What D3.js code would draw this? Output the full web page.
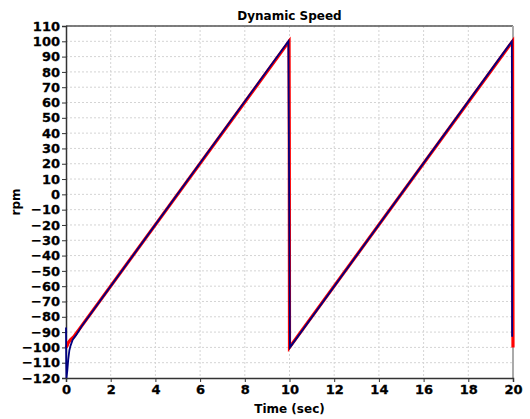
<!DOCTYPE html>
<html>
<head>
<meta charset="utf-8">
<script src="https://cdn.jsdelivr.net/npm/d3@7"></script>
<style>
  body { margin: 0; background: #fff; }
  text { font-family: "DejaVu Sans", Verdana, sans-serif; font-weight: bold; }
</style>
</head>
<body>
<script>
var refTime  = [0, 0.05, 0.1, 0.2, 0.35, 9.98, 9.99, 10.0, 19.98, 20.0];
var refSpeed = [-100, -99, -97, -95, -93, 100, 40, -100, 100, -100];

var measTime  = [0, 0.01, 0.02, 0.06, 0.1, 0.15, 0.2, 0.3, 0.45, 0.7, 9.95, 10.02, 19.95, 19.96];
var measSpeed = [-87, -110, -120, -115, -108, -102, -99, -95, -92, -86.2, 100, -100, 100, -93];

var xTicks = [0, 2, 4, 6, 8, 10, 12, 14, 16, 18, 20];
var yTicks = d3.range(-120, 111, 10);

var margin = {top: 26, right: 17, bottom: 41, left: 66},
    width = 530 - margin.left - margin.right,
    height = 419 - margin.top - margin.bottom;

var x = d3.scaleLinear().domain([0, 20]).range([0, width]);
var y = d3.scaleLinear().domain([-120, 110]).range([height, 0]);

var svg = d3.select('body').append('svg')
    .attr('width', 530)
    .attr('height', 419);

var main = svg.append('g')
    .attr('transform', 'translate(' + margin.left + ',' + margin.top + ')');

// grid
main.append('g').selectAll('line')
    .data(xTicks.slice(1))
    .enter().append('line')
    .attr('x1', function(d) { return x(d); })
    .attr('x2', function(d) { return x(d); })
    .attr('y1', 0).attr('y2', height)
    .attr('stroke', '#d4d4d4')
    .attr('stroke-dasharray', '2,2');

main.append('g').selectAll('line')
    .data(yTicks.slice(1))
    .enter().append('line')
    .attr('x1', 0).attr('x2', width)
    .attr('y1', function(d) { return y(d); })
    .attr('y2', function(d) { return y(d); })
    .attr('stroke', '#d4d4d4')
    .attr('stroke-dasharray', '2,2');

// frame: top and right
main.append('line').attr('x1', 0).attr('x2', width).attr('y1', 0).attr('y2', 0)
    .attr('stroke', '#555').attr('stroke-width', 1.5);
main.append('line').attr('x1', width).attr('x2', width).attr('y1', 0).attr('y2', height)
    .attr('stroke', '#aaa').attr('stroke-width', 2);

var x_axis = d3.axisBottom(x).tickValues(xTicks).tickSize(4).tickPadding(3);
var y_axis = d3.axisLeft(y).tickValues(yTicks).tickSize(4).tickPadding(2);

var gx = main.append('g')
    .attr('transform', 'translate(0,' + height + ')')
    .call(x_axis);
var gy = main.append('g').call(y_axis);

[gx, gy].forEach(function(g) {
    g.select('.domain').attr('stroke', '#333').attr('stroke-width', 1.5);
    g.selectAll('.tick line').attr('stroke', '#333');
    g.selectAll('.tick text')
        .attr('fill', '#000')
        .attr('stroke', '#000')
        .attr('stroke-width', 0.3)
        .style('font-size', '13px');
});

var line = d3.line()
    .x(function(d) { return x(d[0]); })
    .y(function(d) { return y(d[1]); });

var ref = d3.zip(refTime, refSpeed);
var meas = d3.zip(measTime, measSpeed);

main.append('path')
    .datum(ref)
    .attr('d', line)
    .attr('fill', 'none')
    .attr('stroke', '#ff0000')
    .attr('stroke-width', 3.2);

main.append('path')
    .datum(meas)
    .attr('d', line)
    .attr('fill', 'none')
    .attr('stroke', '#00007f')
    .attr('stroke-width', 1.8);

// titles
svg.append('text')
    .attr('x', margin.left + width / 2)
    .attr('y', 20)
    .style('text-anchor', 'middle')
    .style('font-size', '12px')
    .text('Dynamic Speed');

svg.append('text')
    .attr('x', margin.left + width / 2)
    .attr('y', 413)
    .style('text-anchor', 'middle')
    .style('font-size', '12px')
    .text('Time (sec)');

svg.append('text')
    .attr('transform', 'translate(20,' + (margin.top + height / 2) + ') rotate(-90)')
    .style('text-anchor', 'middle')
    .style('font-size', '12px')
    .text('rpm');
</script>
</body>
</html>
